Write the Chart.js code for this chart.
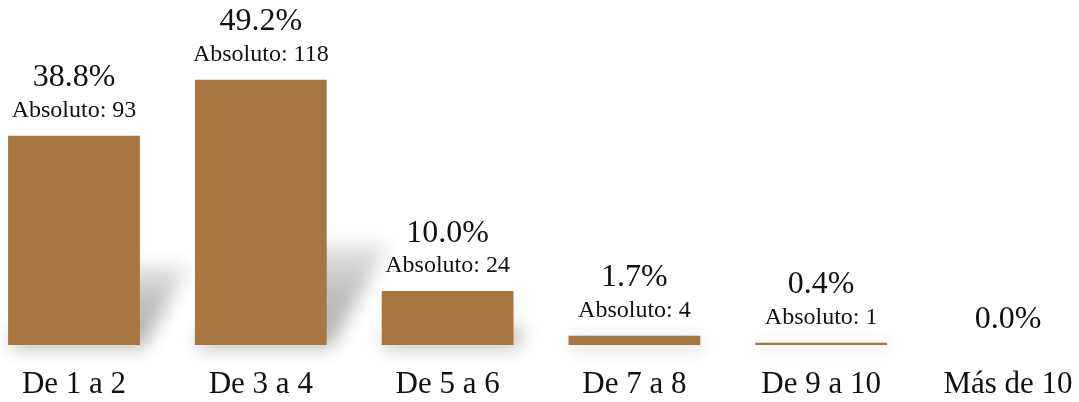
<!DOCTYPE html>
<html>
<head>
<meta charset="utf-8">
<script src="https://cdn.jsdelivr.net/npm/chart.js@4.4.1/dist/chart.umd.min.js"></script>
<style>
  html, body { margin: 0; padding: 0; background: #fff; }
  #wrap { width: 1079px; height: 402px; }
</style>
</head>
<body>
<div id="wrap"><canvas id="barChart"></canvas></div>
<script>
// Data
const categories = ["De 1 a 2", "De 3 a 4", "De 5 a 6", "De 7 a 8", "De 9 a 10", "Más de 10"];
const percentages = [38.8, 49.2, 10.0, 1.7, 0.4, 0.0];
const absolutes = [93, 118, 24, 4, 1, 0];

const FONT = "'Liberation Serif', 'Times New Roman', serif";

// soft perspective shadow behind each bar
const shadowPlugin = {
    id: 'barShadow',
    beforeDatasetsDraw(chart) {
        const ctx = chart.ctx;
        const meta = chart.getDatasetMeta(0);
        ctx.save();
        ctx.filter = 'blur(9px)';
        meta.data.forEach(bar => {
            const h = bar.base - bar.y;
            if (h <= 0) return;
            const w = bar.width;
            const sh = h * 0.38;
            const skew = sh * 0.62;
            const grad = ctx.createLinearGradient(0, bar.base, 0, bar.base - sh);
            grad.addColorStop(0, 'rgba(0,0,0,0.30)');
            grad.addColorStop(0.5, 'rgba(0,0,0,0.26)');
            grad.addColorStop(1, 'rgba(0,0,0,0.10)');
            ctx.fillStyle = grad;
            ctx.beginPath();
            ctx.moveTo(bar.x - w / 2, bar.base + 2);
            ctx.lineTo(bar.x + w / 2 + 4, bar.base + 2);
            ctx.lineTo(bar.x + w / 2 + skew, bar.base - sh);
            ctx.lineTo(bar.x - w / 2 + skew, bar.base - sh);
            ctx.closePath();
            ctx.fill();
        });
        ctx.restore();
    }
};

// percentage + absolute labels above each bar
const labelPlugin = {
    id: 'barLabels',
    afterDatasetsDraw(chart) {
        const ctx = chart.ctx;
        const meta = chart.getDatasetMeta(0);
        ctx.save();
        ctx.fillStyle = '#111';
        ctx.textAlign = 'center';
        ctx.textBaseline = 'middle';
        meta.data.forEach((bar, i) => {
            const pct = percentages[i].toFixed(1) + '%';
            if (absolutes[i] > 0) {
                ctx.font = '24px ' + FONT;
                ctx.fillText('Absoluto: ' + absolutes[i], bar.x, bar.y - 25);
                ctx.font = '32px ' + FONT;
                ctx.fillText(pct, bar.x, bar.y - 58);
            } else {
                ctx.font = '32px ' + FONT;
                ctx.fillText(pct, bar.x, bar.y - 25);
            }
        });
        ctx.restore();
    }
};

const chart = new Chart(document.getElementById('barChart'), {
    type: 'bar',
    data: {
        labels: categories,
        datasets: [{
            data: percentages,
            backgroundColor: '#A77641',
            borderWidth: 0,
            barPercentage: 0.84,
            categoryPercentage: 0.84,
            clip: false,
        }]
    },
    options: {
        responsive: true,
        maintainAspectRatio: false,
        animation: false,
        layout: {
            padding: { top: 0, left: 74, right: 71, bottom: 2 }
        },
        scales: {
            x: {
                offset: false,
                grid: { display: false, drawTicks: false },
                border: { display: false },
                ticks: {
                    color: '#111',
                    padding: 21,
                    maxRotation: 0,
                    autoSkip: false,
                    font: { family: FONT, size: 31 }
                },
                afterFit(scale) {
                    scale.height = 55;
                    scale.paddingLeft = 0;
                    scale.paddingRight = 0;
                }
            },
            y: {
                display: false,
                min: 0,
                max: 64
            }
        },
        plugins: {
            legend: { display: false },
            tooltip: { enabled: false }
        }
    },
    plugins: [shadowPlugin, labelPlugin]
});
</script>
</body>
</html>
